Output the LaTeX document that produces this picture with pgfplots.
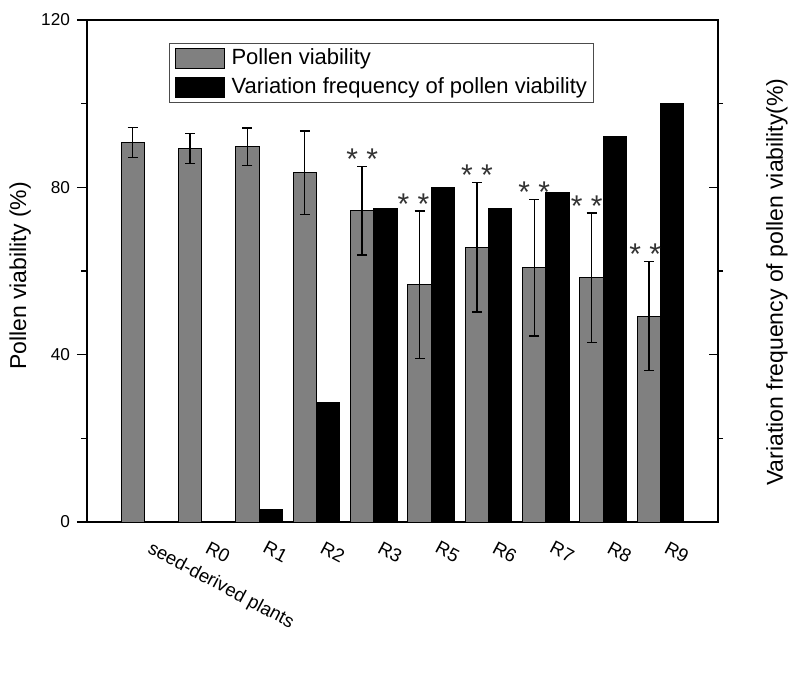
\documentclass[border=0pt]{standalone}
\usepackage{pgfplots}
\pgfplotsset{compat=1.18}
\usepackage{pgfplotstable}
\usepackage{fontspec}
\setmainfont{Liberation Sans}

% x = group, pv = pollen viability, err = error bar half-length
\pgfplotstableread{
x pv err
0 90.7 3.6
1 89.3 3.6
2 89.7 4.5
3 83.5 10.0
4 74.4 10.6
5 56.7 17.6
6 65.7 15.5
7 60.8 16.3
8 58.4 15.5
9 49.2 13.0
}\pollen
% variation frequency (no bar for seed-derived plants and R0)
\pgfplotstableread{
x vf
2 3.1
3 28.5
4 75
5 80
6 75
7 78.7
8 92.1
9 100
}\variation

\begin{document}
\begin{tikzpicture}
\path[use as bounding box] (-43.5pt,-87.5pt) rectangle (356.5pt,261pt);
\begin{axis}[
  at={(0pt,0pt)}, anchor=south west,
  scale only axis, width=315.5pt, height=251pt,
  xmin=-1, xmax=10, ymin=0, ymax=120,
  axis line style={line width=0.8pt},
  xtick={0.2035,1.2035,2.2035,3.2035,4.2035,5.2035,6.2035,7.2035,8.2035,9.2035},
  xticklabels={seed-derived plants,R0,R1,R2,R3,R5,R6,R7,R8,R9},
  xtick style={draw=none},
  xticklabel style={font=\fontsize{9.3}{10}\selectfont, inner sep=0pt,
    xshift=-1.5pt, yshift=-4pt, rotate=-28, anchor=north west},
  ytick={0,40,80,120},
  minor ytick={20,60,100},
  ytick pos=left,
  tick align=outside,
  major tick length=5pt, minor tick length=2.75pt,
  ytick style={line width=0.8pt, black},
  yticklabel style={font=\fontsize{8.6}{10}\selectfont},
  /pgf/number format/assume math mode=true,
  ylabel={Pollen viability (\%)},
  ylabel style={font=\fontsize{11.5}{13}\selectfont,
    at={(axis description cs:-0.106,0.49)}, anchor=center},
  legend style={at={(axis description cs:0.130,0.954)}, anchor=north west,
    draw=black!70, line width=0.5pt, inner xsep=2.5pt, inner ysep=1.2pt,
    column sep=2.5pt, row sep=1.8pt,
    font=\fontsize{11}{13}\selectfont,
    nodes={inner sep=1pt, text height=8.2pt, text depth=2.5pt}},
  legend cell align=left,
]
\addplot[ybar, bar width=0.407, bar shift=-0.2035,
  fill=black!50, draw=black, line width=0.5pt,
  legend image code/.code={\draw[fill=black!50, draw=black, line width=0.5pt] (0pt,-5pt) rectangle (24.5pt,5pt);}]
  table[x=x, y=pv] {\pollen};
\addlegendentry{Pollen viability}
\addplot[ybar, bar width=0.407, bar shift=0.2035,
  fill=black, draw=black, line width=0.5pt,
  legend image code/.code={\draw[fill=black, draw=black, line width=0.5pt] (0pt,-5pt) rectangle (24.5pt,5pt);}]
  table[x=x, y=vf] {\variation};
\addlegendentry{Variation frequency of pollen viability}

% error bars, centred on the grey bars
\addplot[draw=none, mark=none, forget plot,
  error bars/.cd, y dir=both, y explicit, error mark=|,
  error bar style={draw=black, solid, line width=0.7pt},
  error mark options={draw=black, solid, mark size=2.5pt, line width=0.7pt}]
  table[x expr=\thisrow{x}-0.2035, y=pv, y error=err] {\pollen};

% significance marks above the error bars
\begin{scope}[every node/.style={font=\fontsize{15}{15}\selectfont, anchor=base,
    yshift=-1.6pt, text=black!80, inner sep=0pt}]
\node at (axis cs:3.7965,85.0) {* *};
\node at (axis cs:4.69,74.3) {* *};
\node at (axis cs:5.7965,81.2) {* *};
\node at (axis cs:6.7965,77.1) {* *};
\node at (axis cs:7.71,73.9) {* *};
\node at (axis cs:8.73,62.2) {* *};
\end{scope}
\end{axis}

% right axis: short outward ticks and the right label
\begin{axis}[
  at={(0pt,0pt)}, anchor=south west,
  scale only axis, width=315.5pt, height=251pt,
  xmin=-1, xmax=10, ymin=0, ymax=120,
  axis x line=none, axis y line*=right,
  axis line style={line width=0.8pt, -},
  ytick={20,60,100}, yticklabels={},
  tick align=outside, major tick length=2.5pt,
  tick style={line width=0.8pt, black},
  ylabel={Variation frequency of pollen viability(\%)},
  ylabel style={font=\fontsize{11.5}{13}\selectfont,
    at={(axis description cs:1.0935,0.478)}, anchor=center, rotate=0},
]
\end{axis}
% right axis: longer inward ticks
\begin{axis}[
  at={(0pt,0pt)}, anchor=south west,
  scale only axis, width=315.5pt, height=251pt,
  xmin=-1, xmax=10, ymin=0, ymax=120,
  axis x line=none, axis y line*=right,
  axis line style={line width=0.8pt, -},
  ytick={40,80}, yticklabels={},
  tick align=inside, major tick length=4.5pt,
  tick style={line width=0.8pt, black},
]
\end{axis}
\end{tikzpicture}
\end{document}
